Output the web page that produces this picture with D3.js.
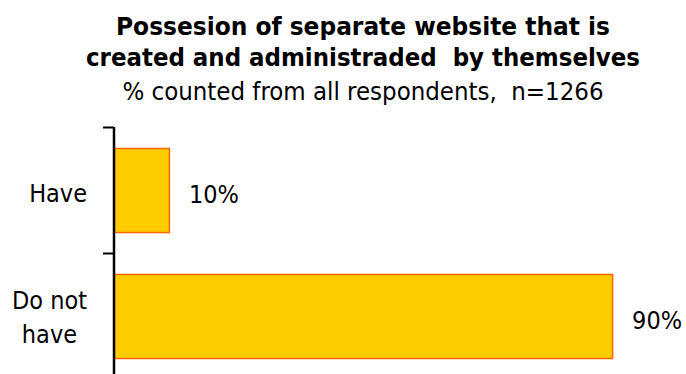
<!DOCTYPE html>
<html>
<head>
<meta charset="utf-8">
<script src="https://cdn.jsdelivr.net/npm/d3@7"></script>
<style>
  html, body { margin: 0; padding: 0; background: #fff; }
  svg { display: block; }
  text { white-space: pre; }
</style>
</head>
<body>
<svg id="chart" width="686" height="374"></svg>
<script>
// Survey answers and shares (percent of all respondents)
const categories = ["Have", "Do not have"];
const categoryLines = [["Have"], ["Do not", "have"]];
const values = [10, 90];
const titleLines = ["Possesion of separate website that is", "created and administraded  by themselves"];
const subtitle = "% counted from all respondents,  n=1266";

const W = 686, H = 374;
const font = "Tahoma, 'DejaVu Sans Condensed', 'DejaVu Sans', sans-serif";
const axisX = 114;

const svg = d3.select("#chart");

const x = d3.scaleLinear().domain([0, 100]).range([axisX, 668]);
const y = d3.scaleBand().domain(categories).range([127.5, 379.5])
  .paddingInner(1 / 3).paddingOuter(1 / 6);
const yBounds = d3.scaleBand().domain(categories).range([127.5, 379.5]);

// Stretch or squeeze a text line to a set width
function fitText(sel, width) {
  sel.attr("textLength", width).attr("lengthAdjust", "spacingAndGlyphs");
}

// Title block
const cx = 363;
fitText(svg.append("text").attr("x", cx).attr("y", 35).attr("text-anchor", "middle")
  .attr("font-family", font).attr("font-weight", "bold").attr("font-size", 24.5).attr("fill", "#000")
  .text(titleLines[0]), 494);
fitText(svg.append("text").attr("x", cx).attr("y", 66).attr("text-anchor", "middle")
  .attr("font-family", font).attr("font-weight", "bold").attr("font-size", 24.5).attr("fill", "#000")
  .text(titleLines[1]), 554);
fitText(svg.append("text").attr("x", cx).attr("y", 100).attr("text-anchor", "middle")
  .attr("font-family", font).attr("font-size", 24).attr("fill", "#000")
  .text(subtitle), 481);

// Bars
svg.append("g").selectAll("rect").data(categories).join("rect")
  .attr("x", x(0))
  .attr("y", d => y(d))
  .attr("width", (d, i) => x(values[i]) - x(0))
  .attr("height", y.bandwidth())
  .attr("fill", "#FFCC00")
  .attr("stroke", "#FF6600")
  .attr("stroke-width", 1.5);

// Value labels
svg.append("g").selectAll("text").data(categories).join("text")
  .attr("x", (d, i) => x(values[i]) + 19.5)
  .attr("y", d => y(d) + y.bandwidth() / 2 + 12)
  .attr("font-family", font).attr("font-size", 25).attr("fill", "#000")
  .text((d, i) => values[i] + "%");

// Category axis with boundary ticks between bands
const axis = svg.append("g");
axis.append("line").attr("x1", axisX).attr("x2", axisX)
  .attr("y1", 127).attr("y2", H).attr("stroke", "#000").attr("stroke-width", 2.5);
const bounds = categories.map(c => yBounds(c)).concat([yBounds.range()[1]]);
axis.selectAll("line.tick").data(bounds).join("line").attr("class", "tick")
  .attr("x1", axisX - 11).attr("x2", axisX)
  .attr("y1", d => d).attr("y2", d => d)
  .attr("stroke", "#000").attr("stroke-width", 2);

// Category labels: block right-aligned to the axis, lines centred within it
const labelRight = 87;
const lh = 34;
categories.forEach((c, i) => {
  const lines = categoryLines[i];
  const cy = y(c) + y.bandwidth() / 2;
  const shift = lines.length > 1 ? 9.5 : 11.5;
  const g = svg.append("g");
  const texts = lines.map((l, j) => g.append("text")
    .attr("font-family", font).attr("font-size", 25).attr("fill", "#000")
    .attr("text-anchor", "middle")
    .attr("y", cy + shift + (j - (lines.length - 1) / 2) * lh)
    .text(l));
  const widths = texts.map(t => t.node().getComputedTextLength());
  const maxW = d3.max(widths);
  texts.forEach(t => t.attr("x", labelRight - maxW / 2));
});
</script>
</body>
</html>
